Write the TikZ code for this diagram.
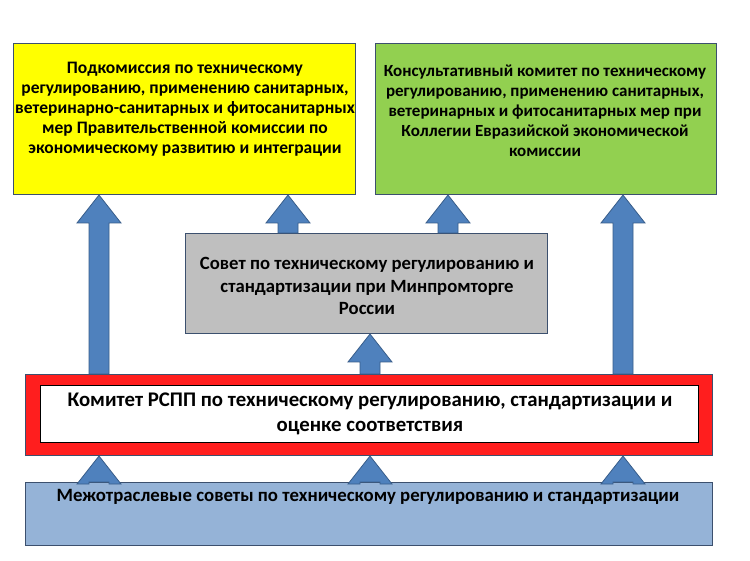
\documentclass[tikz,border=0pt]{standalone}
\usepackage{fontspec}
\setmainfont{Carlito}
\definecolor{arrfill}{RGB}{79,129,189}
\definecolor{arrline}{RGB}{56,93,138}
\definecolor{boxline}{RGB}{60,80,110}
\definecolor{yel}{RGB}{255,255,0}
\definecolor{grn}{RGB}{146,208,80}
\definecolor{gry}{RGB}{191,191,191}
\definecolor{blu}{RGB}{149,179,215}
\definecolor{rd}{RGB}{255,30,30}
\newcommand{\blockarr}[3]{% x, ybottom, ytop
  \fill[arrfill,draw=arrline,line width=0.8pt] (#1-10,#2) -- (#1-10,#3+28) -- (#1-22,#3+28) -- (#1,#3) -- (#1+22,#3+28) -- (#1+10,#3+28) -- (#1+10,#2) -- cycle;}
\begin{document}
\begin{tikzpicture}[x=1pt,y=-1pt,
  box/.style={draw=boxline,line width=1pt,anchor=north west,inner sep=0pt},
  txt/.style={align=center,font=\bfseries}]
\useasboundingbox (0,0) rectangle (750,561);
\fill[white] (0,0) rectangle (750,561);
% boxes
\node[box,fill=yel,minimum width=342pt,minimum height=151pt] (yb) at (13,43) {};
\node[box,fill=grn,minimum width=341pt,minimum height=151pt] (gb) at (375,43) {};
\node[box,fill=gry,minimum width=362pt,minimum height=100pt] (sb) at (185,233) {};
\node[box,fill=rd,minimum width=687pt,minimum height=81pt] (rb) at (25,374) {};
\node[box,draw=black,line width=1.2pt,fill=white,minimum width=658pt,minimum height=57pt] (wb) at (40,385) {};
\node[box,fill=blu,minimum width=687pt,minimum height=63pt] (bb) at (25,482) {};
% texts
\node[txt,font=\bfseries\fontsize{17.5}{20}\selectfont] (yt) at (185,109) {Подкомиссия по техническому\\регулированию, применению санитарных,\\ветеринарно-санитарных и фитосанитарных\\мер Правительственной комиссии по\\экономическому развитию и интеграции};
\node[txt,font=\bfseries\fontsize{17}{20}\selectfont] (gt) at (545,111) {Консультативный комитет по техническому\\регулированию, применению санитарных,\\ветеринарных и фитосанитарных мер при\\Коллегии Евразийской экономической\\комиссии};
\node[txt,font=\bfseries\fontsize{18.7}{22.5}\selectfont] (st) at (367,286) {Совет по техническому регулированию и\\стандартизации при Минпромторге\\России};
\node[txt,font=\bfseries\fontsize{20.8}{25}\selectfont] (rt) at (370,414) {Комитет РСПП по техническому регулированию, стандартизации и\\оценке соответствия};
\node[txt,font=\bfseries\fontsize{18.8}{20}\selectfont] (bt) at (368,497) {Межотраслевые советы по техническому регулированию и стандартизации};
% arrows
\blockarr{99}{374}{195}
\blockarr{623}{374}{195}
\blockarr{288}{233}{195}
\blockarr{448}{233}{195}
\blockarr{370}{374}{334}
\blockarr{99}{482}{456}
\blockarr{370}{482}{456}
\blockarr{623}{482}{456}
\end{tikzpicture}
\end{document}
